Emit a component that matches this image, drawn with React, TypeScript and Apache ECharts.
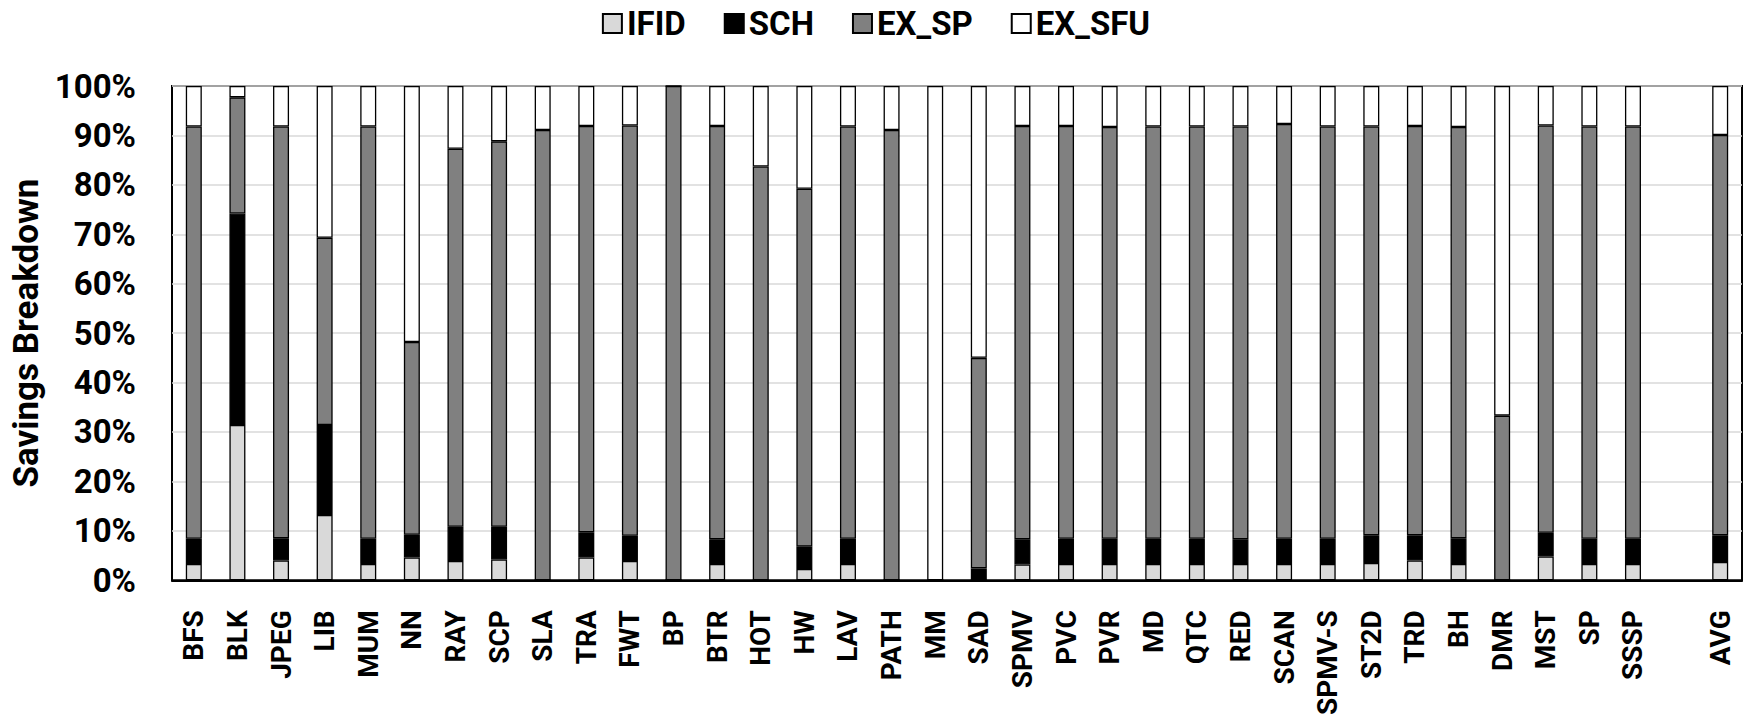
import React, { useEffect, useRef } from 'react';
import * as echarts from 'echarts';

const categories = ['BFS', 'BLK', 'JPEG', 'LIB', 'MUM', 'NN', 'RAY', 'SCP', 'SLA', 'TRA', 'FWT', 'BP', 'BTR', 'HOT', 'HW', 'LAV', 'PATH', 'MM', 'SAD', 'SPMV', 'PVC', 'PVR', 'MD', 'QTC', 'RED', 'SCAN', 'SPMV-S', 'ST2D', 'TRD', 'BH', 'DMR', 'MST', 'SP', 'SSSP', '', 'AVG'];

const seriesNames = ['IFID', 'SCH', 'EX_SP', 'EX_SFU'];
const seriesColors = ['#d9d9d9', '#000000', '#808080', '#ffffff'];

const ifid = [3.3, 31.4, 4.0, 13.2, 3.3, 4.6, 3.9, 4.2, 0, 4.6, 3.9, 0, 3.3, 0, 2.3, 3.3, 0, 0, 0, 3.2, 3.3, 3.3, 3.3, 3.3, 3.3, 3.3, 3.3, 3.5, 4.0, 3.3, 0, 4.8, 3.3, 3.3, '-', 3.7];
const sch = [5.1, 42.8, 4.5, 18.2, 5.1, 4.6, 6.9, 6.6, 0, 5.1, 5.1, 0, 5.0, 0, 4.5, 5.1, 0, 0, 2.4, 5.1, 5.1, 5.1, 5.1, 5.1, 5.0, 5.1, 5.1, 5.6, 5.1, 5.2, 0, 4.8, 5.1, 5.1, '-', 5.4];
const exSp = [83.4, 23.5, 83.3, 37.9, 83.4, 39.0, 76.5, 78.0, 91.1, 82.2, 83.0, 100, 83.6, 83.7, 72.4, 83.4, 91.1, 0, 42.6, 83.6, 83.5, 83.3, 83.4, 83.4, 83.5, 83.9, 83.4, 82.7, 82.8, 83.2, 33.3, 82.4, 83.4, 83.4, '-', 81.0];
const exSfu = [8.2, 2.3, 8.2, 30.7, 8.2, 51.8, 12.7, 11.2, 8.9, 8.1, 8.0, 0, 8.1, 16.3, 20.8, 8.2, 8.9, 100, 55.0, 8.1, 8.1, 8.3, 8.2, 8.2, 8.2, 7.7, 8.2, 8.2, 8.1, 8.3, 66.7, 8.0, 8.2, 8.2, '-', 9.9];

const seriesData = [ifid, sch, exSp, exSfu];

const yMin = 0;
const yMax = 100;
const yInterval = 10;
const yTitle = 'Savings Breakdown';

const FONT = 'Roboto, "Open Sans", sans-serif';

export default function App() {
  const ref = useRef<HTMLDivElement>(null);

  useEffect(() => {
    if (!ref.current) return;
    const chart = echarts.init(ref.current, null, { renderer: 'svg' });
    chart.setOption({
      animation: false,
      backgroundColor: '#ffffff',
      textStyle: { fontFamily: FONT },
      legend: {
        data: seriesNames,
        top: 2,
        left: 'center',
        icon: 'rect',
        itemWidth: 19,
        itemHeight: 19,
        itemGap: 38,
        textStyle: { fontSize: 33, fontWeight: 'bold', color: '#000', fontFamily: FONT },
      },
      grid: {
        left: 172,
        right: 10,
        top: 86,
        bottom: 136,
        show: true,
        borderColor: '#000',
        borderWidth: 2,
        backgroundColor: 'transparent',
      },
      xAxis: {
        type: 'category',
        data: categories,
        axisLine: { show: true, lineStyle: { color: '#000', width: 2 } },
        axisTick: { show: false },
        axisLabel: {
          interval: 0,
          rotate: 90,
          fontSize: 28,
          fontWeight: 'bold',
          color: '#000',
          margin: 30,
          fontFamily: FONT,
        },
      },
      yAxis: {
        type: 'value',
        min: yMin,
        max: yMax,
        interval: yInterval,
        name: yTitle,
        nameLocation: 'middle',
        nameRotate: 90,
        nameGap: 126,
        nameTextStyle: { fontSize: 35, fontWeight: 'bold', color: '#000', fontFamily: FONT },
        axisLine: { show: false },
        axisTick: { show: false },
        axisLabel: {
          formatter: '{value}%',
          fontSize: 33,
          fontWeight: 'bold',
          color: '#000',
          margin: 36,
          fontFamily: FONT,
        },
        splitLine: { show: true, lineStyle: { color: '#d9d9d9', width: 1.5 } },
      },
      series: seriesNames.map((name, i) => ({
        name,
        type: 'bar',
        stack: 'total',
        data: seriesData[i],
        barWidth: 16,
        itemStyle: { color: seriesColors[i], borderColor: '#000', borderWidth: 1.3 },
      })),
    });
    return () => chart.dispose();
  }, []);

  return (
    <div
      ref={ref}
      style={{ position: 'fixed', left: 0, top: 0, width: 1752, height: 718 }}
    />
  );
}
